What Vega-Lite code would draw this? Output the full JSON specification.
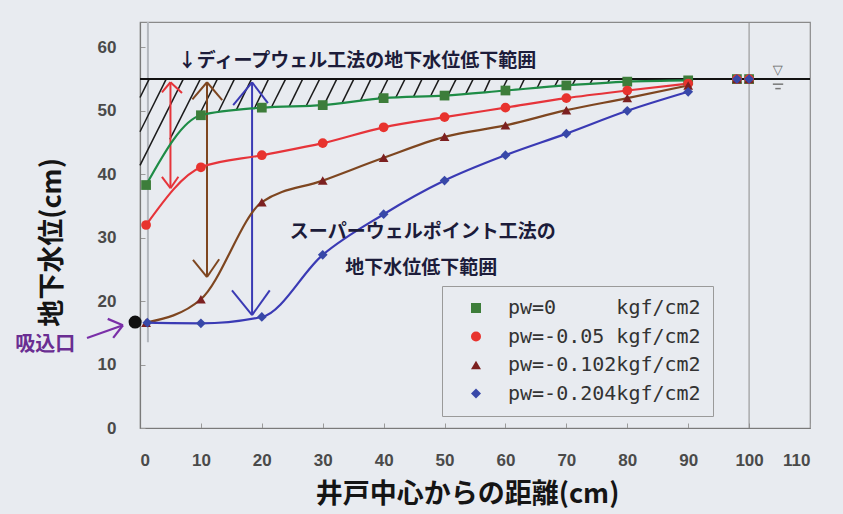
{
  "$schema": "https://vega.github.io/schema/vega-lite/v6.json",
  "width": 670,
  "height": 406,
  "autosize": {"type": "none"},
  "padding": {"left": 140, "top": 22, "right": 33, "bottom": 86},
  "background": "#e8ebf0",
  "config": {
    "view": {"stroke": "#8a8a8a", "strokeWidth": 1.2},
    "font": "Liberation Sans",
    "axis": {
      "grid": false,
      "domainColor": "#7a7a7a",
      "domainWidth": 1.2,
      "tickColor": "#9a9a9a",
      "tickSize": -5,
      "labelFont": "Liberation Sans",
      "labelFontSize": 17,
      "labelFontWeight": "bold",
      "labelColor": "#4a4a4a",
      "titleFont": "Noto Sans CJK JP",
      "titleFontSize": 27,
      "titleFontWeight": "bold",
      "titleColor": "#151515"
    }
  },
  "datasets": {
    "series": [
      {"series": "pw=0\u00a0\u00a0\u00a0\u00a0\u00a0kgf/cm2", "x": 1, "y": 38.3},
      {"series": "pw=0\u00a0\u00a0\u00a0\u00a0\u00a0kgf/cm2", "x": 10, "y": 49.3},
      {"series": "pw=0\u00a0\u00a0\u00a0\u00a0\u00a0kgf/cm2", "x": 20, "y": 50.5},
      {"series": "pw=0\u00a0\u00a0\u00a0\u00a0\u00a0kgf/cm2", "x": 30, "y": 50.9},
      {"series": "pw=0\u00a0\u00a0\u00a0\u00a0\u00a0kgf/cm2", "x": 40, "y": 52},
      {"series": "pw=0\u00a0\u00a0\u00a0\u00a0\u00a0kgf/cm2", "x": 50, "y": 52.4},
      {"series": "pw=0\u00a0\u00a0\u00a0\u00a0\u00a0kgf/cm2", "x": 60, "y": 53.2},
      {"series": "pw=0\u00a0\u00a0\u00a0\u00a0\u00a0kgf/cm2", "x": 70, "y": 54},
      {"series": "pw=0\u00a0\u00a0\u00a0\u00a0\u00a0kgf/cm2", "x": 80, "y": 54.6},
      {"series": "pw=0\u00a0\u00a0\u00a0\u00a0\u00a0kgf/cm2", "x": 90, "y": 54.8},
      {"series": "pw=0\u00a0\u00a0\u00a0\u00a0\u00a0kgf/cm2", "x": 98, "y": 55},
      {"series": "pw=0\u00a0\u00a0\u00a0\u00a0\u00a0kgf/cm2", "x": 100, "y": 55},
      {"series": "pw=-0.05\u00a0kgf/cm2", "x": 1, "y": 32},
      {"series": "pw=-0.05\u00a0kgf/cm2", "x": 10, "y": 41.1},
      {"series": "pw=-0.05\u00a0kgf/cm2", "x": 20, "y": 43},
      {"series": "pw=-0.05\u00a0kgf/cm2", "x": 30, "y": 44.9},
      {"series": "pw=-0.05\u00a0kgf/cm2", "x": 40, "y": 47.4},
      {"series": "pw=-0.05\u00a0kgf/cm2", "x": 50, "y": 49},
      {"series": "pw=-0.05\u00a0kgf/cm2", "x": 60, "y": 50.5},
      {"series": "pw=-0.05\u00a0kgf/cm2", "x": 70, "y": 52},
      {"series": "pw=-0.05\u00a0kgf/cm2", "x": 80, "y": 53.2},
      {"series": "pw=-0.05\u00a0kgf/cm2", "x": 90, "y": 54.3},
      {"series": "pw=-0.05\u00a0kgf/cm2", "x": 98, "y": 55},
      {"series": "pw=-0.05\u00a0kgf/cm2", "x": 100, "y": 55},
      {"series": "pw=-0.102kgf/cm2", "x": 1, "y": 16.6},
      {"series": "pw=-0.102kgf/cm2", "x": 10, "y": 20.3},
      {"series": "pw=-0.102kgf/cm2", "x": 20, "y": 35.6},
      {"series": "pw=-0.102kgf/cm2", "x": 30, "y": 39},
      {"series": "pw=-0.102kgf/cm2", "x": 40, "y": 42.6},
      {"series": "pw=-0.102kgf/cm2", "x": 50, "y": 45.9},
      {"series": "pw=-0.102kgf/cm2", "x": 60, "y": 47.7},
      {"series": "pw=-0.102kgf/cm2", "x": 70, "y": 50.1},
      {"series": "pw=-0.102kgf/cm2", "x": 80, "y": 52},
      {"series": "pw=-0.102kgf/cm2", "x": 90, "y": 54},
      {"series": "pw=-0.102kgf/cm2", "x": 98, "y": 55},
      {"series": "pw=-0.102kgf/cm2", "x": 100, "y": 55},
      {"series": "pw=-0.204kgf/cm2", "x": 1.2, "y": 16.6},
      {"series": "pw=-0.204kgf/cm2", "x": 10, "y": 16.5},
      {"series": "pw=-0.204kgf/cm2", "x": 20, "y": 17.5},
      {"series": "pw=-0.204kgf/cm2", "x": 30, "y": 27.3},
      {"series": "pw=-0.204kgf/cm2", "x": 40, "y": 33.7},
      {"series": "pw=-0.204kgf/cm2", "x": 50, "y": 39},
      {"series": "pw=-0.204kgf/cm2", "x": 60, "y": 43},
      {"series": "pw=-0.204kgf/cm2", "x": 70, "y": 46.4},
      {"series": "pw=-0.204kgf/cm2", "x": 80, "y": 50},
      {"series": "pw=-0.204kgf/cm2", "x": 90, "y": 53},
      {"series": "pw=-0.204kgf/cm2", "x": 98, "y": 55},
      {"series": "pw=-0.204kgf/cm2", "x": 100, "y": 55}
    ],
    "hatch": [
      {"x": 1.5, "y": 55, "x2": 0, "y2": 52.1},
      {"x": 4.3, "y": 55, "x2": 0, "y2": 46.7},
      {"x": 7.1, "y": 55, "x2": 0, "y2": 41.4},
      {"x": 9.9, "y": 55, "x2": 4.9, "y2": 45.5},
      {"x": 12.7, "y": 55, "x2": 9.6, "y2": 49.1},
      {"x": 15.5, "y": 55, "x2": 12.8, "y2": 49.7},
      {"x": 18.3, "y": 55, "x2": 15.8, "y2": 50.1},
      {"x": 21.1, "y": 55, "x2": 18.8, "y2": 50.4},
      {"x": 23.9, "y": 55, "x2": 21.6, "y2": 50.6},
      {"x": 26.7, "y": 55, "x2": 24.5, "y2": 50.7},
      {"x": 29.5, "y": 55, "x2": 27.3, "y2": 50.8},
      {"x": 32.3, "y": 55, "x2": 30.2, "y2": 50.9},
      {"x": 35.1, "y": 55, "x2": 33.2, "y2": 51.3},
      {"x": 37.9, "y": 55, "x2": 36.2, "y2": 51.6},
      {"x": 40.7, "y": 55, "x2": 39.1, "y2": 51.9},
      {"x": 43.5, "y": 55, "x2": 42.0, "y2": 52.1},
      {"x": 46.3, "y": 55, "x2": 44.9, "y2": 52.2},
      {"x": 49.1, "y": 55, "x2": 47.7, "y2": 52.3},
      {"x": 51.9, "y": 55, "x2": 50.6, "y2": 52.5},
      {"x": 54.7, "y": 55, "x2": 53.5, "y2": 52.7},
      {"x": 57.5, "y": 55, "x2": 56.5, "y2": 52.9},
      {"x": 60.3, "y": 55, "x2": 59.4, "y2": 53.2},
      {"x": 63.1, "y": 55, "x2": 62.3, "y2": 53.4},
      {"x": 65.9, "y": 55, "x2": 65.2, "y2": 53.6},
      {"x": 68.7, "y": 55, "x2": 68.1, "y2": 53.9},
      {"x": 71.5, "y": 55, "x2": 71.0, "y2": 54.1},
      {"x": 74.3, "y": 55, "x2": 73.9, "y2": 54.3},
      {"x": 77.1, "y": 55, "x2": 76.8, "y2": 54.4},
      {"x": 79.9, "y": 55, "x2": 79.7, "y2": 54.6}
    ],
    "arrows": [
      {"series": "pw=-0.05\u00a0kgf/cm2", "x": 5.0, "y": 54.5, "x2": 5.0, "y2": 37.8},
      {"series": "pw=-0.05\u00a0kgf/cm2", "x": 5.0, "y": 54.5, "x2": 3.6, "y2": 52.9},
      {"series": "pw=-0.05\u00a0kgf/cm2", "x": 5.0, "y": 54.5, "x2": 6.9, "y2": 52.8},
      {"series": "pw=-0.05\u00a0kgf/cm2", "x": 5.0, "y": 37.8, "x2": 3.6, "y2": 39.6},
      {"series": "pw=-0.05\u00a0kgf/cm2", "x": 5.0, "y": 37.8, "x2": 6.3, "y2": 39.6},
      {"series": "pw=-0.102kgf/cm2", "x": 11.0, "y": 54.5, "x2": 11.0, "y2": 23.8},
      {"series": "pw=-0.102kgf/cm2", "x": 11.0, "y": 54.5, "x2": 8.6, "y2": 51.8},
      {"series": "pw=-0.102kgf/cm2", "x": 11.0, "y": 54.5, "x2": 13.5, "y2": 51.7},
      {"series": "pw=-0.102kgf/cm2", "x": 11.0, "y": 23.8, "x2": 8.7, "y2": 26.5},
      {"series": "pw=-0.102kgf/cm2", "x": 11.0, "y": 23.8, "x2": 13.0, "y2": 26.6},
      {"series": "pw=-0.204kgf/cm2", "x": 18.4, "y": 54.5, "x2": 18.4, "y2": 17.8},
      {"series": "pw=-0.204kgf/cm2", "x": 18.4, "y": 54.5, "x2": 15.3, "y2": 50.9},
      {"series": "pw=-0.204kgf/cm2", "x": 18.4, "y": 54.5, "x2": 21.0, "y2": 51.2},
      {"series": "pw=-0.204kgf/cm2", "x": 18.4, "y": 17.8, "x2": 15.1, "y2": 21.7},
      {"series": "pw=-0.204kgf/cm2", "x": 18.4, "y": 17.8, "x2": 21.3, "y2": 21.7}
    ]
  },
  "encoding": {
    "x": {
      "field": "x", "type": "quantitative",
      "scale": {"domain": [0, 110], "nice": false, "zero": false},
      "axis": {
        "values": [0, 10, 20, 30, 40, 50, 60, 70, 80, 90, 100, 110],
        "title": "井戸中心からの距離(cm)",
        "labelPadding": 29,
        "titleX": 327,
        "titleY": 66,
        "titleBaseline": "middle"
      }
    },
    "y": {
      "field": "y", "type": "quantitative",
      "scale": {"domain": [0, 64], "nice": false, "zero": false},
      "axis": {
        "values": [0, 10, 20, 30, 40, 50, 60],
        "title": "地下水位(cm)",
        "labelPadding": 29,
        "titleX": -88,
        "titleY": 220,
        "titleBaseline": "middle"
      }
    }
  },
  "layer": [
    {
      "data": {"values": [{"x": 1.3, "y": 13.5, "y2": 64}]},
      "mark": {"type": "rule", "color": "#b4b8be", "strokeWidth": 2},
      "encoding": {"y2": {"field": "y2"}}
    },
    {
      "data": {"values": [{"x": 100, "y": 0, "y2": 64}]},
      "mark": {"type": "rule", "color": "#8a8a8a", "strokeWidth": 1},
      "encoding": {"y2": {"field": "y2"}}
    },
    {
      "data": {"name": "hatch"},
      "mark": {"type": "rule", "color": "#1a1a1a", "strokeWidth": 1.5},
      "encoding": {"x2": {"field": "x2"}, "y2": {"field": "y2"}}
    },
    {
      "data": {"values": [{"x": 0, "x2": 110, "y": 55}]},
      "mark": {"type": "rule", "color": "#111111", "strokeWidth": 2},
      "encoding": {"x2": {"field": "x2"}}
    },
    {
      "data": {"name": "arrows"},
      "mark": {"type": "rule", "strokeWidth": 2},
      "encoding": {
        "x2": {"field": "x2"}, "y2": {"field": "y2"},
        "stroke": {"field": "series", "type": "nominal", "legend": null,
          "scale": {"domain": ["pw=-0.204kgf/cm2", "pw=-0.102kgf/cm2", "pw=-0.05\u00a0kgf/cm2", "pw=0\u00a0\u00a0\u00a0\u00a0\u00a0kgf/cm2"],
                    "range": ["#3a3ab4", "#7e4620", "#e6343a", "#1e8c46"]}}
      }
    },
    {
      "data": {"values": [
        {"x": -8.7, "y": 14.2, "x2": -2.8, "y2": 16.2},
        {"x": -2.8, "y": 16.2, "x2": -5.3, "y2": 17.2},
        {"x": -2.8, "y": 16.2, "x2": -4.4, "y2": 14.2}
      ]},
      "mark": {"type": "rule", "color": "#7a2fa8", "strokeWidth": 2.2},
      "encoding": {"x2": {"field": "x2"}, "y2": {"field": "y2"}}
    },
    {
      "data": {"name": "series"},
      "transform": [{"filter": "datum.x < 95"}],
      "mark": {"type": "line", "interpolate": "monotone", "strokeWidth": 2.2},
      "encoding": {
        "stroke": {"field": "series", "type": "nominal", "legend": null,
          "scale": {"domain": ["pw=-0.204kgf/cm2", "pw=-0.102kgf/cm2", "pw=-0.05\u00a0kgf/cm2", "pw=0\u00a0\u00a0\u00a0\u00a0\u00a0kgf/cm2"],
                    "range": ["#3a3ab4", "#7e4620", "#e6343a", "#1e8c46"]}},
        "detail": {"field": "series"}
      }
    },
    {
      "data": {"name": "series"},
      "mark": {"type": "point", "filled": true, "opacity": 1, "size": 95},
      "encoding": {
        "color": {"field": "series", "type": "nominal",
          "scale": {"domain": ["pw=0\u00a0\u00a0\u00a0\u00a0\u00a0kgf/cm2", "pw=-0.05\u00a0kgf/cm2", "pw=-0.102kgf/cm2", "pw=-0.204kgf/cm2"],
                    "range": ["#3d7d3a", "#e8332e", "#7c2020", "#3848a8"]},
          "legend": {"orient": "none", "legendX": 302, "legendY": 264, "title": null,
            "labelFont": "DejaVu Sans Mono", "labelFontSize": 20, "labelColor": "#333333",
            "symbolSize": 100, "symbolOffset": 12, "labelOffset": 22, "rowPadding": 8.5,
            "padding": 12, "strokeColor": "#9a9a9a", "fillColor": "#e8ebf0", "labelLimit": 400}},
        "shape": {"field": "series", "type": "nominal",
          "scale": {"domain": ["pw=0\u00a0\u00a0\u00a0\u00a0\u00a0kgf/cm2", "pw=-0.05\u00a0kgf/cm2", "pw=-0.102kgf/cm2", "pw=-0.204kgf/cm2"],
                    "range": ["square", "circle", "triangle-up", "diamond"]},
          "legend": {"orient": "none", "legendX": 302, "legendY": 264, "title": null,
            "labelFont": "DejaVu Sans Mono", "labelFontSize": 20, "labelColor": "#333333",
            "symbolSize": 100, "symbolOffset": 12, "labelOffset": 22, "rowPadding": 8.5,
            "padding": 12, "strokeColor": "#9a9a9a", "fillColor": "#e8ebf0", "labelLimit": 400}}
      }
    },
    {
      "data": {"values": [{"x": -0.8, "y": 16.7}]},
      "mark": {"type": "point", "filled": true, "color": "#111111", "opacity": 1, "size": 170, "shape": "circle"}
    },
    {
      "data": {"values": [
        {"x": 6.2, "y": 57.9, "label": "↓ディープウェル工法の地下水位低下範囲"},
        {"x": 24.6, "y": 30.9, "label": "スーパーウェルポイント工法の"},
        {"x": 33.7, "y": 25.2, "label": "地下水位低下範囲"}
      ]},
      "mark": {"type": "text", "align": "left", "baseline": "middle", "font": "Noto Sans CJK JP", "fontSize": 19, "fontWeight": "bold", "color": "#1c1c3a"},
      "encoding": {"text": {"field": "label"}}
    },
    {
      "data": {"values": [{"x": -20.5, "y": 13.1, "label": "吸込口"}]},
      "mark": {"type": "text", "align": "left", "baseline": "middle", "font": "Noto Sans CJK JP", "fontSize": 20, "fontWeight": "bold", "color": "#6a2e92"},
      "encoding": {"text": {"field": "label"}}
    },
    {
      "data": {"values": [{"x": 104.7, "y": 56.5, "label": "▽"}]},
      "mark": {"type": "text", "align": "center", "baseline": "middle", "font": "DejaVu Sans", "fontSize": 13, "color": "#666666"},
      "encoding": {"text": {"field": "label"}}
    },
    {
      "data": {"values": [
        {"x": 103.9, "x2": 105.6, "y": 54.2},
        {"x": 104.3, "x2": 105.2, "y": 53.5}
      ]},
      "mark": {"type": "rule", "color": "#777777", "strokeWidth": 1.5},
      "encoding": {"x2": {"field": "x2"}}
    }
  ]
}
